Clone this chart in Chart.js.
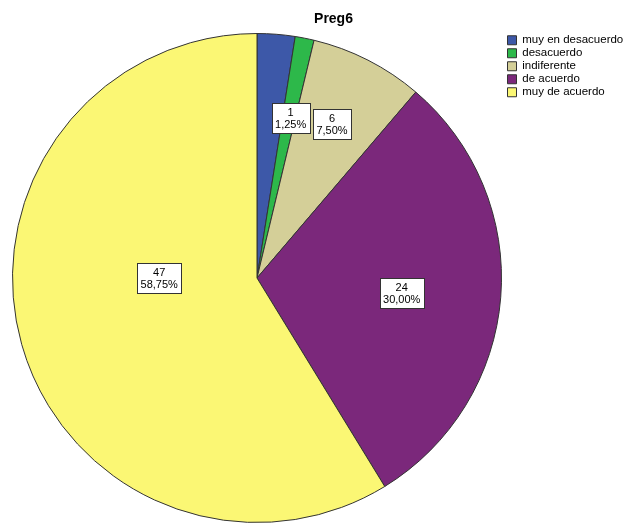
<!DOCTYPE html>
<html>
<head>
<meta charset="utf-8">
<script src="https://cdn.jsdelivr.net/npm/chart.js@4"></script>
<style>
  html, body { margin: 0; padding: 0; background: #fff; }
  #wrap { width: 625px; height: 525px; }
</style>
</head>
<body>
<div id="wrap"><canvas id="preg6"></canvas></div>
<script>
const categories = ['muy en desacuerdo', 'desacuerdo', 'indiferente', 'de acuerdo', 'muy de acuerdo'];
const counts = [2, 1, 6, 24, 47];
// the blue slice label is hidden under the green one in the original
const showLabel = [false, true, true, true, true];

const sliceColors = ['#3d58a8', '#2db84a', '#d4cf98', '#7b287b', '#fbf774'];

// where each label box sits, as a share of the radius + a small angle nudge (deg)
const labelRadius = [0.66, 0.67, 0.70, 0.595, 0.40];
const labelNudge = [0, 0.6, -1, 1.4, 15.75];

const FONT = '"Liberation Sans", Arial, sans-serif';
const total = counts.reduce((a, b) => a + b, 0);
const pct = (i) => (counts[i] / total * 100).toFixed(2).replace('.', ',') + '%';

const boxLabels = {
  id: 'boxLabels',
  afterDatasetsDraw(chart) {
    const ctx = chart.ctx;
    const meta = chart.getDatasetMeta(0);
    ctx.save();
    ctx.font = '11px ' + FONT;
    ctx.textAlign = 'center';
    ctx.textBaseline = 'middle';
    meta.data.forEach((arc, i) => {
      if (!showLabel[i]) return;
      const p = arc.getProps(['x', 'y', 'startAngle', 'endAngle', 'outerRadius'], true);
      const a = (p.startAngle + p.endAngle) / 2 + labelNudge[i] * Math.PI / 180;
      const r = p.outerRadius * labelRadius[i];
      const cx = p.x + Math.cos(a) * r;
      const cy = p.y + Math.sin(a) * r;
      const lines = [String(counts[i]), pct(i)];
      const w = Math.round(Math.max(...lines.map(t => ctx.measureText(t).width)) + 7);
      const h = 30;
      const x0 = Math.round(cx - w / 2) + 0.5;
      const y0 = Math.round(cy - h / 2) + 0.5;
      ctx.fillStyle = '#ffffff';
      ctx.fillRect(x0, y0, w, h);
      ctx.strokeStyle = '#333333';
      ctx.lineWidth = 1;
      ctx.strokeRect(x0, y0, w, h);
      ctx.fillStyle = '#000000';
      ctx.fillText(lines[0], cx, y0 + 9);
      ctx.fillText(lines[1], cx, y0 + 21);
    });
    ctx.restore();
  }
};

const topTitle = {
  id: 'topTitle',
  afterDraw(chart) {
    const ctx = chart.ctx;
    ctx.save();
    ctx.font = 'bold 14px ' + FONT;
    ctx.fillStyle = '#000000';
    ctx.textAlign = 'center';
    ctx.textBaseline = 'alphabetic';
    ctx.fillText('Preg6', 333.5, 22.5);
    ctx.restore();
  }
};

const ctx = document.getElementById('preg6');
const chart = new Chart(ctx, {
  type: 'pie',
  data: {
    labels: categories,
    datasets: [{
      data: counts,
      backgroundColor: sliceColors,
      borderColor: '#333333',
      borderWidth: 1,
      hoverOffset: 0
    }]
  },
  options: {
    responsive: true,
    maintainAspectRatio: false,
    animation: false,
    events: [],
    layout: {
      padding: { top: 33, bottom: 2, left: 8, right: 0 }
    },
    plugins: {
      title: { display: false },
      tooltip: { enabled: false },
      legend: {
        position: 'right',
        align: 'start',
        maxWidth: 119,
        labels: {
          boxWidth: 9,
          boxHeight: 9,
          padding: 1.5,
          color: '#000000',
          font: { size: 11.5, family: FONT }
        }
      }
    }
  },
  plugins: [boxLabels, topTitle]
});
</script>
</body>
</html>
